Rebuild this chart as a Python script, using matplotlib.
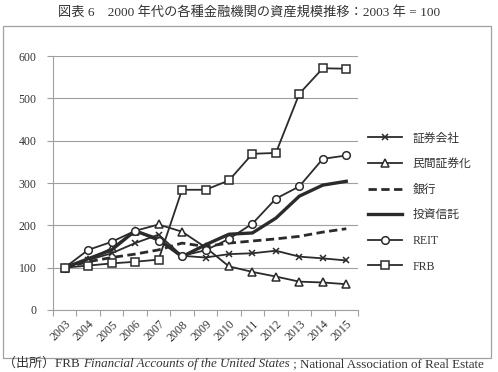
import matplotlib
matplotlib.use("Agg")
import matplotlib.pyplot as plt
import matplotlib.patches
import numpy as np

plt.rcParams["font.family"] = ["Liberation Serif", "Noto Sans CJK JP"]

YEARS = [str(y) for y in range(2003, 2016)]
SECURITIES = [100, 118, 134, 158, 178, 128, 124, 132, 134, 140, 126, 122, 117]
SECURITIZATION = [100, 118, 146, 187, 202, 185, 148, 103, 90, 79, 67, 65, 61]
BANKS = [100, 114, 124, 132, 142, 158, 150, 158, 163, 168, 174, 184, 192]
FUNDS = [100, 121, 142, 187, 167, 126, 154, 179, 182, 217, 269, 295, 304]
REIT = [100, 142, 161, 187, 163, 128, 141, 168, 204, 263, 292, 357, 365]
FRB = [100, 105, 110, 114, 119, 284, 284, 306, 369, 371, 511, 571, 570]

TITLE = "図表 6　2000 年代の各種金融機関の資産規模推移：2003 年 = 100"

INK = "#2b2b2b"
TXT = "#333333"

fig = plt.figure(figsize=(4.98, 3.72), dpi=100)
fig.patches.append(
    matplotlib.patches.Rectangle(
        (3 / 498, 1 - 358 / 372), 488 / 498, 332 / 372,
        transform=fig.transFigure, fill=False, edgecolor="#a0a0a0", linewidth=0.9,
    )
)
ax = fig.add_axes([53 / 498, 1 - 310 / 372, 305 / 498, 254 / 372])

x = np.arange(len(YEARS))
series = [
    ("証券会社", SECURITIES, dict(marker="x", linestyle="-", linewidth=1.3, markersize=5)),
    ("民間証券化", SECURITIZATION, dict(marker="^", linestyle="-", linewidth=1.3, markersize=5.5)),
    ("銀行", BANKS, dict(marker=None, linestyle=(0, (3, 1.6)), linewidth=2.0)),
    ("投資信託", FUNDS, dict(marker=None, linestyle="-", linewidth=2.4)),
    ("REIT", REIT, dict(marker="o", linestyle="-", linewidth=1.3, markersize=5.5)),
    ("FRB", FRB, dict(marker="s", linestyle="-", linewidth=1.3, markersize=5.5)),
]
handles = []
for label, vals, style in series:
    (h,) = ax.plot(
        x, vals, color=INK, markerfacecolor="white", markeredgecolor=INK,
        markeredgewidth=1.1, label=label, **style
    )
    handles.append(h)

ax.set_xlim(-0.5, len(YEARS) - 0.5)
ax.set_ylim(0, 600)
ax.set_yticks(range(0, 601, 100))
ax.grid(True, axis="y", color="#a0a0a0", linewidth=0.8)
ax.set_axisbelow(True)
for side in ["top", "right"]:
    ax.spines[side].set_visible(False)
for side in ["left", "bottom"]:
    ax.spines[side].set_color("#a0a0a0")
    ax.spines[side].set_linewidth(0.8)
ax.set_xticks(x)
ax.set_xticklabels(YEARS, rotation=45, ha="right", rotation_mode="anchor", fontsize=8.5)
ax.tick_params(axis="x", which="major", length=0, pad=6)
ax.set_xticks(np.arange(-0.5, len(YEARS), 1.0), minor=True)
ax.tick_params(axis="x", which="minor", length=4, color="#a0a0a0", width=0.8)
ax.tick_params(axis="y", length=4, color="#a0a0a0", width=0.8, labelsize=8.5, pad=8)
for lab in ax.get_xticklabels() + ax.get_yticklabels():
    lab.set_color(TXT)

fig.text(0.5, 1 - 12 / 372, TITLE, ha="center", va="center", fontsize=9.5, color=TXT)

fig.legend(
    handles=handles, loc="upper left", bbox_to_anchor=(357 / 498, 1 - 122 / 372),
    frameon=False, fontsize=8.5, handlelength=2.9, labelspacing=1.15,
    handletextpad=0.9, labelcolor=TXT,
)

# source line at the bottom
fig.canvas.draw()
renderer = fig.canvas.get_renderer()
pieces = [
    ("（出所）FRB ", "normal"),
    ("Financial Accounts of the United States", "italic"),
    (" ; National Association of Real Estate", "normal"),
]
xpos = 3 / 498
for txt, style in pieces:
    t = fig.text(xpos, 1 - 364 / 372, txt, ha="left", va="center", fontsize=9.4,
                 style=style, color=TXT)
    bb = t.get_window_extent(renderer)
    xpos += bb.width / fig.bbox.width

fig.savefig("out.png", dpi=100)
